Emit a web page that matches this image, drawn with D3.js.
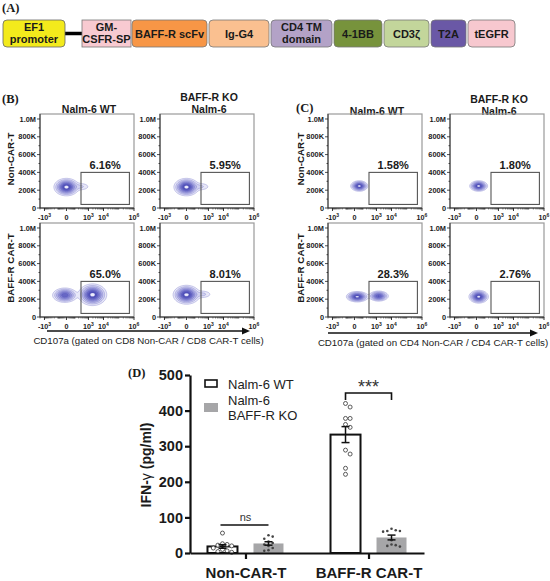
<!DOCTYPE html>
<html><head><meta charset="utf-8">
<script src="https://cdn.jsdelivr.net/npm/d3@7"></script>
<style>body{margin:0;background:#fff}svg{display:block}</style>
</head><body>
<svg id="c" width="550" height="581"></svg>
<script>
// ---------------- DATA ----------------
// Panel A: CAR construct
const promoterLabel = ["EF1", "promoter"];
const constructParts = [["GM-", "CSFR-SP"], ["BAFF-R scFv"], ["Ig-G4"], ["CD4 TM", "domain"], ["4-1BB"], ["CD3ζ"], ["T2A"], ["tEGFR"]];
const partColors = ["#f8cad1", "#f79646", "#fac090", "#b3a2c7", "#77933c", "#c3d69b", "#6a58a6", "#f7c8cf"];
const partWidths = [50, 76, 61, 62, 49, 46, 36, 48]; // layout (px)

// Panels B & C: flow cytometry
const columnTitles = [["Nalm-6 WT"], ["BAFF-R KO", "Nalm-6"]];
const rowTitles = ["Non-CAR-T", "BAFF-R CAR-T"];
const cd8Percents = ["6.16%", "5.95%", "65.0%", "8.01%"];
const cd4Percents = ["1.58%", "1.80%", "28.3%", "2.76%"];
const flowYTicks = [0, 2e5, 4e5, 6e5, 8e5, 1e6];
const flowYTickLabels = ["0", "200K", "400K", "600K", "800K", "1.0M"];
const flowXTicks = [-1e3, 0, 1e3, 1e4, 1e6];
const flowXTickLabels = [["-10", "3"], ["0", ""], ["10", "3"], ["10", "4"], ["10", "6"]];
const gateCD107a = [300, 5e5];
const gateSSC = [4e4, 4e5];
// populations: [CD107a centre, SSC centre, spread (decades), spread (SSC), relative weight]
const cd8Populations = [
  [[0, 235e3, 0.31, 37e3, 1], [300, 240e3, 0.3, 22e3, 0.09]],
  [[0, 235e3, 0.31, 37e3, 1], [300, 240e3, 0.3, 22e3, 0.09]],
  [[-10, 245e3, 0.32, 32e3, 0.7], [1900, 250e3, 0.35, 46e3, 1]],
  [[0, 250e3, 0.33, 40e3, 1], [400, 255e3, 0.3, 22e3, 0.1]]
];
const cd4Populations = [
  [[40, 247e3, 0.21, 22e3, 1]],
  [[15, 247e3, 0.22, 22e3, 1]],
  [[20, 228e3, 0.27, 22e3, 1], [1400, 235e3, 0.25, 22e3, 0.75]],
  [[15, 228e3, 0.24, 27e3, 1]]
];
const cd8Caption = "CD107a (gated on CD8 Non-CAR / CD8 CAR-T cells)";
const cd4Caption = "CD107a (gated on CD4 Non-CAR / CD4 CAR-T cells)";

// Panel D: IFN-gamma
const groups = ["Non-CAR-T", "BAFF-R CAR-T"];
const seriesNames = ["Nalm-6 WT", "Nalm-6 BAFF-R KO"];
const wtValues = [[56, 26, 24, 22, 20, 14, 10, 6, 4, 2], [420, 410, 378, 378, 361, 353, 289, 278, 238, 221]];
const koValues = [[50, 46, 40, 32, 28, 24, 20, 14, 8, 6], [68, 64, 62, 62, 60, 36, 24, 22, 20, 18]];
const ifnTicks = [0, 100, 200, 300, 400, 500];
const significance = ["ns", "***"];

// ---------------- DRAWING ----------------
const SANS = "'Liberation Sans', Arial, Helvetica, sans-serif";
const SERIF = "'Liberation Serif', 'Times New Roman', serif";
const INK = "#1a1a1a";
const svg = d3.select("#c").style("font-family", SANS);

// ---- Panel A
svg.append("text").attr("x", 2).attr("y", 12).attr("font-family", SERIF)
  .attr("font-weight", "bold").attr("font-size", 12.5).attr("fill", INK).text("(A)");
const aY = 20, aH = 27;
svg.append("line").attr("x1", 64).attr("x2", 83).attr("y1", aY + aH / 2).attr("y2", aY + aH / 2)
  .attr("stroke", "#000").attr("stroke-width", 3.5);
svg.append("rect").attr("x", 3).attr("y", aY).attr("width", 62).attr("height", aH).attr("rx", 4)
  .attr("fill", "#f3ea1c").attr("stroke", "#666").attr("stroke-width", 0.8);
function boxText(cx, lines) {
  const t = svg.append("text").attr("text-anchor", "middle").attr("font-weight", "bold")
    .attr("font-size", 11).attr("fill", INK);
  const base = lines.length === 1 ? aY + aH / 2 + 4 : aY + 11;
  lines.forEach((l, i) => t.append("tspan").attr("x", cx).attr("y", base + i * 12).text(l));
}
boxText(34, promoterLabel);
let px = 82;
constructParts.forEach((lines, i) => {
  const w = partWidths[i];
  svg.append("rect").attr("x", px).attr("y", aY).attr("width", w - 1).attr("height", aH)
    .attr("rx", i === 0 ? 0 : 4).attr("fill", partColors[i]).attr("stroke", "#777").attr("stroke-width", 0.8);
  boxText(px + (w - 1) / 2, lines);
  px += w + (i === 0 ? 0 : 1);
});

// ---- Flow plots
const FW = 94, FH = 94;
const levels = [0.03, 0.08, 0.16, 0.27, 0.4, 0.55, 0.72, 0.9];
const levelFill = ["#e8e8f8", "#d2d2f0", "#b8b8e7", "#9d9ddc", "#8282d0", "#6767c4", "#5151b8", "#ececfc"];

function drawFlow(left, top, pops, pct) {
  const g = svg.append("g").attr("transform", `translate(${left},${top})`);
  const xs = d3.scaleSymlog().constant(37.7).domain([-2000, 1e6]).range([0, FW]);
  const ys = d3.scaleLinear().domain([0, 1.056e6]).range([FH, 0]);
  const T = v => Math.sign(v) * Math.log1p(Math.abs(v) / 37.7);
  const pxPerDec = FW * Math.LN10 / (T(1e6) - T(-2000));
  const pxPerSSC = FH / 1.056e6;
  const vals = new Float64Array(FW * FH);
  let mx = 0;
  for (let j = 0; j < FH; j++) for (let i = 0; i < FW; i++) {
    let s = 0;
    pops.forEach(p => {
      const dx = (i + 0.5 - xs(p[0])) / (p[2] * pxPerDec);
      const dy = (j + 0.5 - ys(p[1])) / (p[3] * pxPerSSC);
      s += p[4] * Math.exp(-0.5 * (dx * dx + dy * dy));
    });
    vals[j * FW + i] = s; if (s > mx) mx = s;
  }
  const cont = d3.contours().size([FW, FH]).thresholds(levels.map(l => l * mx))(vals);
  g.selectAll("path.ct").data(cont).join("path").attr("class", "ct")
    .attr("d", d3.geoPath()).attr("fill", (d, i) => levelFill[i])
    .attr("stroke", "#5050bb").attr("stroke-width", 0.45).attr("stroke-opacity", 0.65);
  g.append("rect").attr("x", 0).attr("y", 0).attr("width", FW).attr("height", FH)
    .attr("fill", "none").attr("stroke", "#9a9a9a").attr("stroke-width", 1.2);
  g.append("line").attr("x1", 0).attr("x2", 0).attr("y1", 0).attr("y2", FH).attr("stroke", "#222").attr("stroke-width", 0.9);
  g.append("line").attr("x1", 0).attr("x2", FW).attr("y1", FH).attr("y2", FH).attr("stroke", "#222").attr("stroke-width", 0.9);
  d3.range(0, 1.0001e6, 1e5).forEach(v => {
    const major = flowYTicks.includes(v);
    g.append("line").attr("x1", major ? -3 : -1.5).attr("x2", 0).attr("y1", ys(v)).attr("y2", ys(v))
      .attr("stroke", "#222").attr("stroke-width", 0.8);
  });
  flowYTicks.forEach((v, i) => g.append("text").attr("x", -4).attr("y", ys(v)).attr("dy", "0.35em")
    .attr("text-anchor", "end").attr("font-size", 7.4).attr("font-weight", "bold").attr("fill", INK)
    .text(flowYTickLabels[i]));
  const minors = [];
  [1, 2, 3].forEach(k => d3.range(1, 10).forEach(m => { const v = -m * 10 ** k; if (v >= -2000) minors.push(v); }));
  [1, 2, 3, 4, 5].forEach(k => d3.range(1, 10).forEach(m => minors.push(m * 10 ** k)));
  minors.forEach(v => g.append("line").attr("x1", xs(v)).attr("x2", xs(v)).attr("y1", FH).attr("y2", FH + 1.6)
    .attr("stroke", "#222").attr("stroke-width", 0.5));
  flowXTicks.forEach((v, i) => {
    g.append("line").attr("x1", xs(v)).attr("x2", xs(v)).attr("y1", FH).attr("y2", FH + 3)
      .attr("stroke", "#222").attr("stroke-width", 0.9);
    const t = g.append("text").attr("x", xs(v)).attr("y", FH + 12).attr("text-anchor", "middle")
      .attr("font-size", 7.2).attr("font-weight", "bold").attr("fill", INK);
    t.append("tspan").text(flowXTickLabels[i][0]);
    if (flowXTickLabels[i][1]) t.append("tspan").attr("dy", -3).attr("font-size", 5).text(flowXTickLabels[i][1]);
  });
  const gx0 = xs(gateCD107a[0]), gx1 = xs(gateCD107a[1]), gy0 = ys(gateSSC[1]), gy1 = ys(gateSSC[0]);
  g.append("rect").attr("x", gx0).attr("y", gy0).attr("width", gx1 - gx0).attr("height", gy1 - gy0)
    .attr("fill", "none").attr("stroke", "#555").attr("stroke-width", 1.1);
  g.append("text").attr("x", (gx0 + gx1) / 2).attr("y", gy0 - 3).attr("text-anchor", "middle")
    .attr("font-size", 11).attr("font-weight", "bold").attr("fill", INK).text(pct);
}

function flowPanel(cfg) {
  svg.append("text").attr("x", cfg.labX).attr("y", cfg.labY).attr("font-family", SERIF)
    .attr("font-weight", "bold").attr("font-size", 12.5).attr("fill", INK).text(cfg.label);
  columnTitles.forEach((lines, c) => {
    const t = svg.append("text").attr("text-anchor", "middle").attr("font-weight", "bold")
      .attr("font-size", 10.5).attr("fill", INK);
    const cx = cfg.lefts[c] + FW / 2 + 2;
    const base = lines.length === 1 ? cfg.titleY : cfg.titleY - 12;
    lines.forEach((l, i) => t.append("tspan").attr("x", cx).attr("y", base + i * 12).text(l));
  });
  rowTitles.forEach((r, ri) => {
    const cy = cfg.tops[ri] + FH / 2 - 2;
    svg.append("text").attr("transform", `translate(${cfg.rowX},${cy}) rotate(-90)`)
      .attr("text-anchor", "middle").attr("font-weight", "bold").attr("font-size", 9.8).attr("fill", INK).text(r);
  });
  let k = 0;
  cfg.tops.forEach(tp => cfg.lefts.forEach(lf => { drawFlow(lf, tp, cfg.pops[k], cfg.pcts[k]); k++; }));
  const ay = cfg.arrowY;
  svg.append("line").attr("x1", cfg.arrow[0]).attr("x2", cfg.arrow[1] - 6).attr("y1", ay).attr("y2", ay)
    .attr("stroke", "#111").attr("stroke-width", 1.6);
  svg.append("path").attr("d", `M${cfg.arrow[1]},${ay} L${cfg.arrow[1] - 8},${ay - 3.5} L${cfg.arrow[1] - 8},${ay + 3.5} Z`).attr("fill", "#111");
  svg.append("text").attr("x", (cfg.arrow[0] + cfg.arrow[1]) / 2).attr("y", ay + 13).attr("text-anchor", "middle")
    .attr("font-size", 9.7).attr("fill", INK).text(cfg.caption);
}

flowPanel({label: "(B)", labX: 2, labY: 103, lefts: [40, 160], tops: [114, 223], titleY: 113,
  rowX: 14, pops: cd8Populations, pcts: cd8Percents, arrow: [47, 250], arrowY: 331, caption: cd8Caption});
flowPanel({label: "(C)", labX: 296, labY: 112, lefts: [328, 450], tops: [114, 223], titleY: 115,
  rowX: 304, pops: cd4Populations, pcts: cd4Percents, arrow: [328, 538], arrowY: 333, caption: cd4Caption});

// ---- Panel D
svg.append("text").attr("x", 128).attr("y", 377).attr("font-family", SERIF)
  .attr("font-weight", "bold").attr("font-size", 12.5).attr("fill", INK).text("(D)");
const y = d3.scaleLinear().domain([0, 500]).range([553, 375]);
const x = d3.scalePoint().domain(groups).range([190, 424]).padding(0.451);
const xi = d3.scaleBand().domain(seriesNames).range([-38, 38]).paddingInner(0.348);
const bw = xi.bandwidth();

const stats = arr => {
  const m = d3.mean(arr), sd = d3.deviation(arr);
  return {m, se: sd / Math.sqrt(arr.length)};
};
const seriesData = [wtValues, koValues];
seriesData.forEach((sv, si) => {
  groups.forEach((gname, gi) => {
    const st = stats(sv[gi]);
    const cx = x(gname) + xi(seriesNames[si]) + bw / 2;
    svg.append("rect").attr("x", cx - bw / 2).attr("y", y(st.m)).attr("width", bw).attr("height", y(0) - y(st.m))
      .attr("fill", si === 0 ? "#fff" : "#a6a6a8").attr("stroke", si === 0 ? "#111" : "none").attr("stroke-width", 2);
  });
});
seriesData.forEach((sv, si) => {
  groups.forEach((gname, gi) => {
    const cx = x(gname) + xi(seriesNames[si]) + bw / 2;
    const r = si === 0 ? 2 : 1.3;
    const step = si === 0 ? 4.6 : 4.2;
    const placed = [];
    sv[gi].slice().sort((a, b) => b - a).forEach(v => {
      const py = y(v);
      let off = 0;
      for (let n = 0; n < 20; n++) {
        const cand = n === 0 ? 0 : (n % 2 ? 1 : -1) * Math.ceil(n / 2) * step;
        if (placed.every(p => Math.hypot(p[0] - cand, p[1] - py) >= step)) { off = cand; break; }
      }
      placed.push([off, py]);
      svg.append("circle").attr("cx", cx + off).attr("cy", py).attr("r", r)
        .attr("fill", si === 0 ? "#fff" : "#444").attr("stroke", si === 0 ? "#333" : "none").attr("stroke-width", 0.8);
    });
  });
});
seriesData.forEach((sv, si) => {
  groups.forEach((gname, gi) => {
    const st = stats(sv[gi]);
    const cx = x(gname) + xi(seriesNames[si]) + bw / 2;
    const eg = svg.append("g").attr("stroke", "#111").attr("stroke-width", 1.5);
    eg.append("line").attr("x1", cx).attr("x2", cx).attr("y1", y(st.m - st.se)).attr("y2", y(st.m + st.se));
    [st.m - st.se, st.m + st.se].forEach(v => eg.append("line").attr("x1", cx - 4).attr("x2", cx + 4).attr("y1", y(v)).attr("y2", y(v)));
  });
});
const ya = svg.append("g").attr("transform", "translate(190,0)")
  .call(d3.axisLeft(y).tickValues(ifnTicks).tickSize(5).tickSizeOuter(0).tickPadding(2));
const xa = svg.append("g").attr("transform", "translate(0,553)")
  .call(d3.axisBottom(x).tickSize(6).tickSizeOuter(0).tickPadding(8));
[ya, xa].forEach(a => {
  a.select(".domain").attr("stroke", "#111").attr("stroke-width", 2.2);
  a.selectAll(".tick line").attr("stroke", "#111").attr("stroke-width", 2.2);
  a.selectAll("text").attr("font-family", SANS).attr("font-weight", "bold").attr("fill", INK);
});
ya.selectAll("text").attr("font-size", 14.5);
xa.selectAll("text").attr("font-size", 15);
const yt = svg.append("text").attr("transform", "translate(151,465) rotate(-90)").attr("text-anchor", "middle")
  .attr("font-size", 14).attr("font-weight", "bold").attr("fill", INK);
yt.append("tspan").text("IFN-");
yt.append("tspan").attr("font-weight", "normal").text("γ");
yt.append("tspan").text(" (pg/ml)");
const gx = g => x(g);
svg.append("line").attr("x1", gx(groups[0]) - 25).attr("x2", gx(groups[0]) + 23).attr("y1", 525).attr("y2", 525)
  .attr("stroke", "#111").attr("stroke-width", 1.6);
svg.append("text").attr("x", gx(groups[0])).attr("y", 521).attr("text-anchor", "middle").attr("font-size", 11)
  .attr("fill", "#333").text(significance[0]);
const b0 = gx(groups[1]) + xi(seriesNames[0]) + bw / 2, b1 = gx(groups[1]) + xi(seriesNames[1]) + bw / 2;
svg.append("path").attr("d", `M${b0},400 V393 H${b1} V400`).attr("fill", "none").attr("stroke", "#111").attr("stroke-width", 1.6);
svg.append("text").attr("x", (b0 + b1) / 2).attr("y", 393).attr("text-anchor", "middle").attr("font-size", 18)
  .attr("fill", "#333").text(significance[1]);
svg.append("rect").attr("x", 205).attr("y", 380).attr("width", 12).attr("height", 7)
  .attr("fill", "#fff").attr("stroke", "#111").attr("stroke-width", 1.6);
svg.append("text").attr("x", 228).attr("y", 389).attr("font-size", 13).attr("fill", "#222").text(seriesNames[0]);
svg.append("rect").attr("x", 204).attr("y", 403).attr("width", 14).attr("height", 9).attr("fill", "#a6a6a8");
const lt = svg.append("text").attr("font-size", 13).attr("fill", "#222");
lt.append("tspan").attr("x", 228).attr("y", 405).text("Nalm-6");
lt.append("tspan").attr("x", 228).attr("y", 420).text("BAFF-R KO");
</script>
</body></html>
